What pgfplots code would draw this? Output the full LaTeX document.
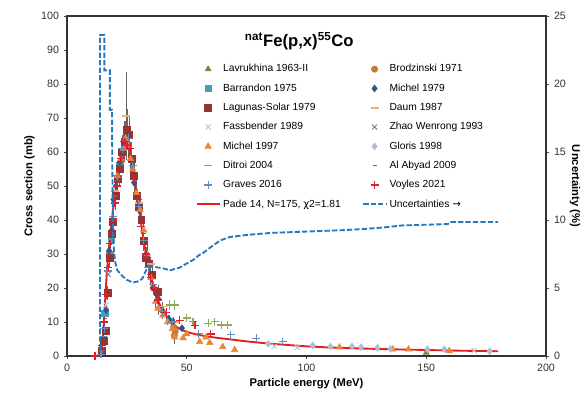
\documentclass[border=0pt]{standalone}
\usepackage{pgfplots}
\pgfplotsset{compat=1.18}
\usepackage{fontspec}
\setmainfont{Liberation Sans}
\newfontfamily\dejavu{DejaVu Sans}

\definecolor{clavr}{RGB}{112,140,60}
\definecolor{cbrod}{RGB}{196,122,58}
\definecolor{cbarr}{RGB}{64,160,180}
\definecolor{cmicA}{RGB}{45,85,135}
\definecolor{clagu}{RGB}{150,50,50}
\definecolor{cdaum}{RGB}{240,170,120}
\definecolor{cfass}{RGB}{180,205,215}
\definecolor{czhao}{RGB}{120,110,130}
\definecolor{cmicB}{RGB}{230,135,60}
\definecolor{cglor}{RGB}{170,190,215}
\definecolor{cditr}{RGB}{140,170,90}
\definecolor{calab}{RGB}{210,60,60}
\definecolor{cgrav}{RGB}{100,140,190}
\definecolor{cvoyl}{RGB}{225,30,45}
\definecolor{cfit}{RGB}{230,30,30}
\definecolor{cunc}{RGB}{40,120,190}

\begin{document}
\begin{tikzpicture}
\pgfplotsset{
  every axis/.append style={
    scale only axis, width=359.25pt, height=255pt,
    at={(0,0)}, anchor=south west,
    xmin=0, xmax=200,
    /pgf/number format/assume math mode=true,
    tick label style={font=\fontsize{8}{9}\selectfont, text=black!80},
    label style={font=\fontsize{8.4}{10}\selectfont\bfseries},
    tick style={black!70, line width=0.6pt},
    major tick length=2.5pt,
  }
}
\begin{axis}[
  ymin=0, ymax=100,
  xtick={0,50,...,200}, ytick={0,10,...,100},
  xtick pos=bottom, ytick pos=left, tick align=outside,
  axis line style={black!80, line width=1pt},
  xlabel={Particle energy (MeV)}, ylabel={Cross section (mb)},
  xlabel style={yshift=2pt}, ylabel style={yshift=-2pt},
  legend columns=2,
  legend cell align=left,
  legend style={at={(0.26,0.874)}, anchor=north west, draw=none, fill=none,
    font=\fontsize{7.7}{9}\selectfont, row sep=3.4pt,
    /tikz/column 2/.style={column sep=14pt}},
  error bars/error bar style={black!60, line width=0.5pt},
  error bars/error mark=none,
]
% Lavrukhina 1963-II
\addplot[only marks, mark=triangle*, mark size=2.6pt, color=clavr] coordinates {
(150,1.0) (40,13.5)};
\addlegendentry{Lavrukhina 1963-II}
% Brodzinski 1971
\addplot[only marks, mark=*, mark size=2.4pt, color=cbrod,
  error bars/.cd, y dir=both, y explicit] coordinates {
(44.5,8.5) +- (0,3) (44.8,6.0) +- (0,1.5) (45.2,7.2) +- (0,2) (29,47) +- (0,3) (36,20) +- (0,2)};
\addlegendentry{Brodzinski 1971}
% Barrandon 1975
\addplot[only marks, mark=square*, mark size=2.4pt, color=cbarr] coordinates {
(15.1,5.0) (15.8,12.5) (17.8,30) (18.6,34.5) (22,56)};
\addlegendentry{Barrandon 1975}
% Michel 1979
\addplot[only marks, mark=diamond*, mark size=2.6pt, color=cmicA] coordinates {
(14.3,0.6) (15.0,4.2) (16.4,13.5) (17.6,31) (18.7,37) (19.4,46) (20.5,50) (22,57)
(24,62) (28,51) (30,43) (33,30) (34.8,24) (36,20) (38,17) (40,13) (42.5,11) (44,10) (48,8.2)};
\addlegendentry{Michel 1979}
% Lagunas-Solar 1979
\addplot[only marks, mark=square*, mark size=2.6pt, color=clagu,
  error bars/.cd, y dir=both, y explicit] coordinates {
(14.5,1.5) +- (0,0.5) (15.3,4.5) +- (0,1) (16.3,7.5) +- (0,1) (17.0,18.5) +- (0,2)
(17.8,29) +- (0,3) (18.5,36) +- (0,3) (19.2,39.5) +- (0,4) (20.2,47) +- (0,4)
(21.2,52) +- (0,5) (22,55) +- (0,5) (23,60) +- (0,5) (24,63) +- (0,6)
(25,66.5) +- (0,6) (26,65) +- (0,6) (27,58) +- (0,5) (28,53) +- (0,5)
(29,47) +- (0,4) (30,44) +- (0,4) (31,40) +- (0,4) (32,34) +- (0,3)
(33,29) +- (0,3) (34,27) +- (0,3) (35.5,24) +- (0,2) (38,19) +- (0,2)};
\addlegendentry{Lagunas-Solar 1979}
% Daum 1987
\addplot[only marks, mark=-, mark size=3pt, color=cdaum, mark options={line width=1.2pt},
  error bars/.cd, y dir=both, y explicit] coordinates {
(24.6,70.5) +- (0,13) (20,48.5) +- (0,3) (30,45) +- (0,3) (35,27) +- (0,2) (40,14.5) +- (0,1.5) (45,10) +- (0,1)};
\addlegendentry{Daum 1987}
% Fassbender 1989
\addplot[only marks, mark=x, mark size=2.6pt, color=cfass, mark options={line width=0.8pt}] coordinates {
(16.3,15) (86.5,2.9) (96.2,2.6) (170,1.6)};
\addlegendentry{Fassbender 1989}
% Zhao Wenrong 1993
\addplot[only marks, mark=x, mark size=2.6pt, color=czhao, mark options={line width=0.6pt}] coordinates {
(14.6,1.0) (17.2,24) (21,52)};
\addlegendentry{Zhao Wenrong 1993}
% Michel 1997
\addplot[only marks, mark=triangle*, mark size=2.8pt, color=cmicB,
  error bars/.cd, y dir=both, y explicit] coordinates {
(21,53) +- (0,4) (22.5,58) +- (0,4) (23.5,61) +- (0,5) (24.5,64) +- (0,5) (25.5,62) +- (0,5)
(26.5,58) +- (0,5) (27.5,55) +- (0,4) (29,48) +- (0,4) (30.5,43) +- (0,3) (32,37) +- (0,3)
(33.5,30) +- (0,3) (35,23) +- (0,2) (37,16) +- (0,2) (38,14) +- (0,2) (40,12) +- (0,1)
(42,10) +- (0,1) (44,8) +- (0,1) (45,5.5) +- (0,2) (48.5,5.3) +- (0,0.5) (50,6.5) +- (0,0.5)
(55.4,4.2) +- (0,0.4) (58,5.5) +- (0,0.4) (59.6,3.9) +- (0,0.4) (65,2.7) +- (0,0.3) (70,1.8) +- (0,0.2)
(113.8,2.55) +- (0,0.2) (136,1.96) +- (0,0.2) (142.6,1.96) +- (0,0.2) (159.6,1.5) +- (0,0.2)};
\addlegendentry{Michel 1997}
% Gloris 1998
\addplot[only marks, mark=diamond*, mark size=2.6pt, color=cglor] coordinates {
(84,3.6) (102.6,3.1) (110,2.8) (119,2.8) (122.8,2.6) (129.6,2.4) (135,2.1) (150.5,2.0) (157.5,2.0) (176.5,1.4)};
\addlegendentry{Gloris 1998}
% Ditroi 2004
\addplot[only marks, mark=-, mark size=3pt, color=cditr, mark options={line width=1.2pt},
  error bars/.cd, x dir=both, x explicit, y dir=both, y explicit,
  error bar style={cditr, line width=0.8pt}] coordinates {
(42.9,15) +- (1.2,1.5) (45,15) +- (1.2,1.5) (49.9,11.1) +- (1.2,1.2) (52.6,10.1) +- (1.2,1.2)
(58.9,9.6) +- (1.2,1.2) (61.7,10.1) +- (1.2,1.2) (64.4,9.1) +- (1.2,1.1) (67.2,9.1) +- (1.2,1.1)};
\addlegendentry{Ditroi 2004}
% Al Abyad 2009
\addplot[only marks, mark=-, mark size=1.5pt, color=calab, mark options={line width=1.2pt}] coordinates {
(14.8,2.5) (16,11) (18,33) (20,47) (22,56) (24,63.5) (26.5,62) (29,49) (32,36) (36,21)};
\addlegendentry{Al Abyad 2009}
% Graves 2016
\addplot[only marks, mark=+, mark size=3pt, color=cgrav, mark options={line width=0.8pt}] coordinates {
(14.2,0.5) (15.5,8) (17,25) (19,41) (21,53) (23,61) (25.5,64) (27.5,56) (30,44) (32,34)
(34,26) (36,21) (40,13) (44,10) (55,6.5) (68.3,6.2) (79,5.2) (90,4.2)};
\addlegendentry{Graves 2016}
% Voyles 2021
\addplot[only marks, mark=+, mark size=3pt, color=cvoyl, mark options={line width=1pt},
  error bars/.cd, x dir=both, x explicit, error bar style={cvoyl, line width=0.8pt}] coordinates {
(11.7,0) +- (1.2,0) (14.5,3) +- (0.5,0) (15.5,10) +- (0.5,0) (16.3,18) +- (0.5,0) (17.2,26) +- (0.5,0)
(18,33) +- (0.5,0) (19,40) +- (0.5,0) (20,45) +- (0.5,0) (21,50) +- (0.5,0) (22.5,58) +- (0.5,0)
(24,63) +- (0.5,0) (25,62) +- (0.5,0) (26.5,61) +- (0.5,0) (28,52) +- (0.5,0) (29.5,46) +- (0.5,0)
(31,38) +- (0.5,0) (33,30) +- (0.5,0) (35,23) +- (0.5,0) (36.5,20) +- (0.5,0) (38,16.5) +- (0.5,0)
(41.5,12.8) +- (0.8,0) (47,10.5) +- (0.8,0) (53.5,9) +- (0.8,0) (60,6.5) +- (0.8,0)};
\addlegendentry{Voyles 2021}
% Pade fit
\addplot[color=cfit, line width=1.4pt, smooth, tension=0.4] coordinates {
(13,0) (13.8,0.4) (14.4,1.8) (15.1,6.7) (15.8,15) (16.5,23) (17.2,29.5) (18.3,37)
(19.3,43.5) (20.5,50) (21.5,55) (22.5,59.5) (23.5,62.5) (24.5,63.8) (25.5,62.8)
(26.5,59.5) (27.5,55) (28.5,50) (29.5,45.5) (30.5,41) (31.8,35) (33,30) (34.6,24.5)
(36,20.5) (37.4,17.4) (40,13.3) (44,9.6) (47,8.0) (50,7.1) (55,6.2) (61,5.5) (68,4.9)
(75,4.3) (82,3.8) (90,3.35) (101,2.8) (112,2.45) (123,2.2) (137,1.95) (151,1.75)
(165,1.55) (180,1.4)};
\addlegendentry{Pade 14, N=175, {\dejavu χ}2=1.81}
\addlegendimage{color=cunc, line width=1.4pt, dash pattern=on 4pt off 1.6pt}
\addlegendentry{Uncertainties {\dejavu →}}
\node[font=\fontsize{12.5}{14}\selectfont\bfseries] at (axis cs:97,92.6)
  {\textsuperscript{nat}Fe(p,x)\textsuperscript{55}Co};
\end{axis}
\begin{axis}[
  ymin=0, ymax=25,
  axis x line=none, axis y line*=right,
  ytick={0,5,...,25}, tick align=outside,
  axis line style={black!80, line width=1pt},
  ylabel={Uncertainty (\%)}, ylabel style={rotate=180}, ylabel shift=-4pt,
]
\addplot[color=cunc, line width=1.4pt, dash pattern=on 4pt off 1.6pt] coordinates {
(13.8,0.5) (13.8,23.6) (15.6,23.6) (15.6,21.0) (17.9,21.0) (17.9,18.1) (18.8,18.1)
(18.9,14) (19.3,8.5) (20,7.0) (21,6.3) (23,5.9) (25,5.6) (27.5,5.4) (30,5.5) (31.5,5.7)
(33,6.3) (35,6.6) (40,6.45) (43,6.3) (47,6.5) (50,6.8) (53,7.1) (55,7.4) (57,7.6)
(60,8.0) (64,8.5) (68,8.75) (75,8.9) (85,9.05) (100,9.15) (115,9.25) (125,9.35)
(132,9.45) (140,9.6) (159,9.7) (160,9.85) (180,9.85)};
\end{axis}
\pgfresetboundingbox
\path (-50.25pt,-31.5pt) rectangle (387.75pt,267pt);
\end{tikzpicture}
\end{document}
